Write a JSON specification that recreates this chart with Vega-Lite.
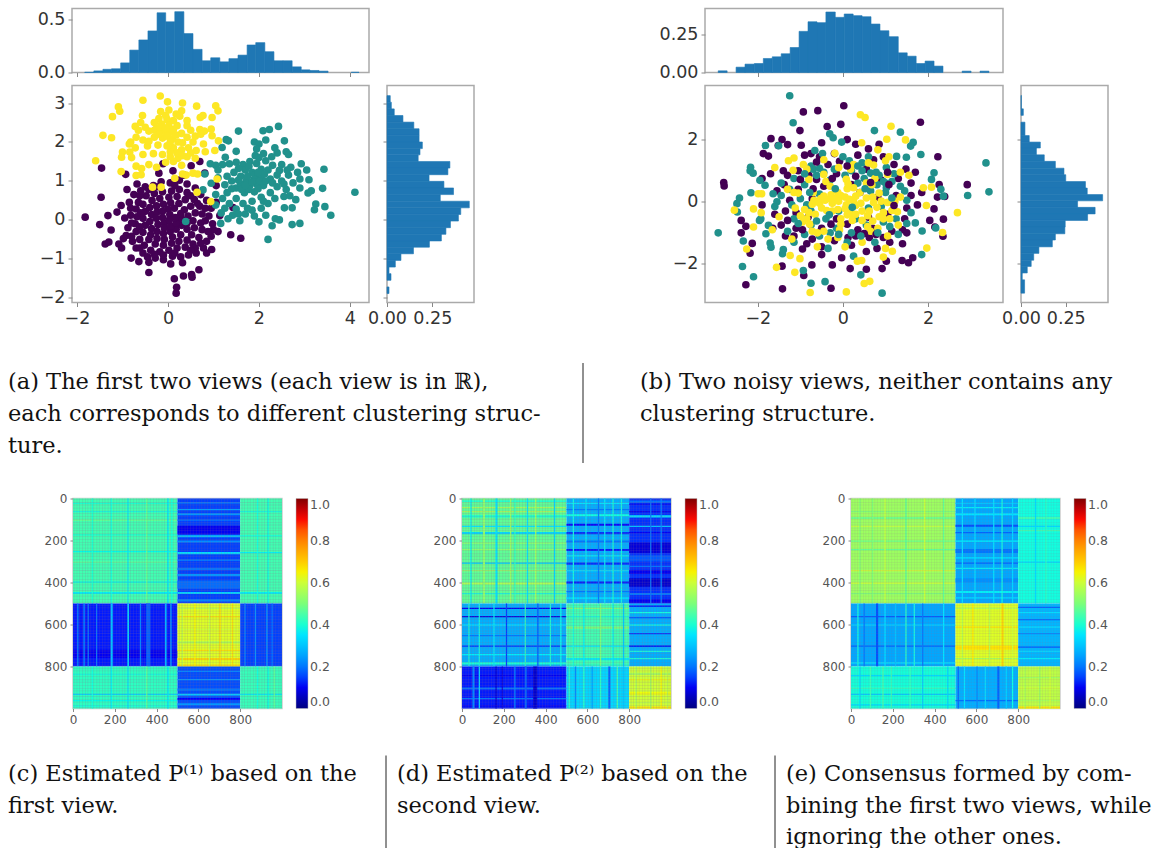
{"$schema":"https://vega.github.io/schema/vega-lite/v6.json","padding":{"left":8,"top":2.5,"right":0,"bottom":0},"background":"white","spacing":0,
"config":{"view":{"stroke":null},"axis":{"grid":false,"domain":false,"tickColor":"#888888","tickSize":4,"labelFont":"DejaVu Sans","labelFontSize":17.5,"labelColor":"#333333","labelOverlap":false,"labelFlush":false,"labelBound":false,"labelPadding":3},"legend":{"gradientLength":210,"gradientThickness":12,"labelFont":"DejaVu Sans","labelFontSize":12.5,"labelColor":"#555555","offset":14,"labelOffset":11,"gradientStrokeColor":"#bbbbbb","gradientStrokeWidth":0.5}},
"datasets":{
"grain":[{"a":3,"b":7},{"a":17,"b":21},{"a":29,"b":33},{"a":44,"b":48},{"a":58,"b":62},{"a":69,"b":73},{"a":83,"b":87},{"a":97,"b":101},{"a":112,"b":116},{"a":124,"b":128},{"a":139,"b":143},{"a":151,"b":155},{"a":166,"b":170},{"a":178,"b":182},{"a":193,"b":197},{"a":207,"b":211},{"a":219,"b":223},{"a":234,"b":238},{"a":246,"b":250},{"a":261,"b":265},{"a":273,"b":277},{"a":288,"b":292},{"a":302,"b":306},{"a":314,"b":318},{"a":329,"b":333},{"a":341,"b":345},{"a":356,"b":360},{"a":368,"b":372},{"a":383,"b":387},{"a":397,"b":401},{"a":409,"b":413},{"a":424,"b":428},{"a":436,"b":440},{"a":451,"b":455},{"a":463,"b":467},{"a":478,"b":482},{"a":492,"b":496},{"a":507,"b":511},{"a":519,"b":523},{"a":534,"b":538},{"a":546,"b":550},{"a":561,"b":565},{"a":573,"b":577},{"a":588,"b":592},{"a":602,"b":606},{"a":614,"b":618},{"a":629,"b":633},{"a":641,"b":645},{"a":656,"b":660},{"a":668,"b":672},{"a":683,"b":687},{"a":697,"b":701},{"a":709,"b":713},{"a":724,"b":728},{"a":736,"b":740},{"a":751,"b":755},{"a":763,"b":767},{"a":778,"b":782},{"a":792,"b":796},{"a":807,"b":811},{"a":819,"b":823},{"a":834,"b":838},{"a":846,"b":850},{"a":861,"b":865},{"a":873,"b":877},{"a":888,"b":892},{"a":902,"b":906},{"a":914,"b":918},{"a":929,"b":933},{"a":941,"b":945},{"a":956,"b":960},{"a":968,"b":972},{"a":983,"b":987},{"a":994,"b":998}],
"topA":[{"a":-1.83,"b":-1.63,"v":0.003},{"a":-1.63,"b":-1.43,"v":0.015},{"a":-1.43,"b":-1.24,"v":0.03},{"a":-1.24,"b":-1.04,"v":0.035},{"a":-1.04,"b":-0.84,"v":0.09},{"a":-0.84,"b":-0.64,"v":0.21},{"a":-0.64,"b":-0.44,"v":0.305},{"a":-0.44,"b":-0.24,"v":0.39},{"a":-0.24,"b":-0.05,"v":0.56},{"a":-0.05,"b":0.15,"v":0.475},{"a":0.15,"b":0.35,"v":0.57},{"a":0.35,"b":0.55,"v":0.365},{"a":0.55,"b":0.75,"v":0.217},{"a":0.75,"b":0.94,"v":0.11},{"a":0.94,"b":1.14,"v":0.138},{"a":1.14,"b":1.34,"v":0.1},{"a":1.34,"b":1.54,"v":0.13},{"a":1.54,"b":1.74,"v":0.163},{"a":1.74,"b":1.93,"v":0.258},{"a":1.93,"b":2.13,"v":0.28},{"a":2.13,"b":2.33,"v":0.195},{"a":2.33,"b":2.53,"v":0.11},{"a":2.53,"b":2.73,"v":0.11},{"a":2.73,"b":2.93,"v":0.053},{"a":2.93,"b":3.12,"v":0.025},{"a":3.12,"b":3.32,"v":0.019},{"a":3.32,"b":3.52,"v":0.013},{"a":4.03,"b":4.2,"v":0.003}],
"sideA":[{"a":3.19,"b":3.02,"v":0.018},{"a":3.02,"b":2.85,"v":0.024},{"a":2.85,"b":2.68,"v":0.04},{"a":2.68,"b":2.51,"v":0.088},{"a":2.51,"b":2.34,"v":0.148},{"a":2.34,"b":2.17,"v":0.177},{"a":2.17,"b":2.0,"v":0.177},{"a":2.0,"b":1.83,"v":0.195},{"a":1.83,"b":1.67,"v":0.182},{"a":1.67,"b":1.5,"v":0.172},{"a":1.5,"b":1.33,"v":0.347},{"a":1.33,"b":1.16,"v":0.336},{"a":1.16,"b":0.99,"v":0.232},{"a":0.99,"b":0.82,"v":0.314},{"a":0.82,"b":0.65,"v":0.367},{"a":0.65,"b":0.48,"v":0.294},{"a":0.48,"b":0.31,"v":0.454},{"a":0.31,"b":0.14,"v":0.407},{"a":0.14,"b":-0.03,"v":0.394},{"a":-0.03,"b":-0.2,"v":0.35},{"a":-0.2,"b":-0.37,"v":0.325},{"a":-0.37,"b":-0.54,"v":0.3},{"a":-0.54,"b":-0.7,"v":0.234},{"a":-0.7,"b":-0.87,"v":0.146},{"a":-0.87,"b":-1.04,"v":0.077},{"a":-1.04,"b":-1.21,"v":0.046},{"a":-1.21,"b":-1.38,"v":0.011},{"a":-1.38,"b":-1.55,"v":0.022},{"a":-1.72,"b":-1.89,"v":0.011}],
"topB":[{"a":-2.93,"b":-2.72,"v":0.011},{"a":-2.51,"b":-2.3,"v":0.035},{"a":-2.3,"b":-2.08,"v":0.055},{"a":-2.08,"b":-1.87,"v":0.059},{"a":-1.87,"b":-1.66,"v":0.092},{"a":-1.66,"b":-1.45,"v":0.103},{"a":-1.45,"b":-1.24,"v":0.123},{"a":-1.24,"b":-1.03,"v":0.164},{"a":-1.03,"b":-0.82,"v":0.27},{"a":-0.82,"b":-0.61,"v":0.333},{"a":-0.61,"b":-0.4,"v":0.327},{"a":-0.4,"b":-0.18,"v":0.397},{"a":-0.18,"b":0.03,"v":0.362},{"a":0.03,"b":0.24,"v":0.384},{"a":0.24,"b":0.45,"v":0.373},{"a":0.45,"b":0.66,"v":0.366},{"a":0.66,"b":0.87,"v":0.318},{"a":0.87,"b":1.08,"v":0.274},{"a":1.08,"b":1.3,"v":0.235},{"a":1.3,"b":1.51,"v":0.129},{"a":1.51,"b":1.72,"v":0.107},{"a":1.72,"b":1.93,"v":0.059},{"a":1.93,"b":2.14,"v":0.075},{"a":2.14,"b":2.35,"v":0.042},{"a":2.8,"b":3.01,"v":0.009},{"a":3.22,"b":3.43,"v":0.009}],
"sideB":[{"a":3.42,"b":2.99,"v":0.002},{"a":2.99,"b":2.78,"v":0.013},{"a":2.56,"b":2.13,"v":0.022},{"a":2.13,"b":1.92,"v":0.046},{"a":1.92,"b":1.73,"v":0.108},{"a":1.73,"b":1.51,"v":0.086},{"a":1.51,"b":1.3,"v":0.13},{"a":1.3,"b":1.08,"v":0.192},{"a":1.08,"b":0.87,"v":0.24},{"a":0.87,"b":0.65,"v":0.25},{"a":0.65,"b":0.44,"v":0.36},{"a":0.44,"b":0.23,"v":0.37},{"a":0.23,"b":0.03,"v":0.456},{"a":0.03,"b":-0.18,"v":0.316},{"a":-0.18,"b":-0.39,"v":0.414},{"a":-0.39,"b":-0.6,"v":0.372},{"a":-0.6,"b":-0.81,"v":0.247},{"a":-0.81,"b":-1.03,"v":0.245},{"a":-1.03,"b":-1.23,"v":0.192},{"a":-1.23,"b":-1.45,"v":0.175},{"a":-1.45,"b":-1.66,"v":0.1},{"a":-1.66,"b":-1.88,"v":0.071},{"a":-1.88,"b":-2.08,"v":0.057},{"a":-2.08,"b":-2.29,"v":0.035},{"a":-2.29,"b":-2.51,"v":0.007},{"a":-2.51,"b":-2.94,"v":0.02}],
"scA":[
{"x":-1.82,"y":0.07,"c":0},{"x":-1.46,"y":1.33,"c":0},{"x":-1.47,"y":0.58,"c":0},{"x":-1.5,"y":-0.12,"c":0},{"x":-1.32,"y":0.11,"c":0},{"x":-1.25,"y":-0.26,"c":0},{"x":-1.38,"y":-0.62,"c":0},{"x":-1.3,"y":-0.57,"c":0},{"x":-1.12,"y":0.2,"c":0},{"x":-1.03,"y":0.37,"c":0},{"x":-1.08,"y":-0.62,"c":0},{"x":-1.02,"y":-0.72,"c":0},{"x":-0.93,"y":1.17,"c":0},{"x":-0.9,"y":0.78,"c":0},{"x":-0.81,"y":-0.98,"c":0},{"x":-0.64,"y":-1.07,"c":0},{"x":-0.42,"y":-1.09,"c":0},{"x":-0.42,"y":-1.35,"c":0},{"x":0.06,"y":-1.13,"c":0},{"x":0.14,"y":-1.51,"c":0},{"x":0.19,"y":-1.73,"c":0},{"x":0.18,"y":-1.88,"c":0},{"x":0.34,"y":-1.44,"c":0},{"x":0.52,"y":-1.4,"c":0},{"x":0.53,"y":-1.47,"c":0},{"x":0.68,"y":-1.28,"c":0},{"x":0.32,"y":-1.1,"c":0},{"x":0.96,"y":-0.76,"c":0},{"x":1.38,"y":-0.38,"c":0},{"x":1.6,"y":-0.47,"c":0},{"x":1.14,"y":0.11,"c":0},{"x":0.7,"y":1.5,"c":0},{"x":-0.11,"y":1.44,"c":0},{"x":0.51,"y":1.39,"c":0},{"x":0.81,"y":1.2,"c":0},{"x":0.11,"y":1.26,"c":0},{"x":1.06,"y":0.88,"c":0},{"x":1.06,"y":0.45,"c":0},{"x":1.43,"y":0.32,"c":0},
{"x":-0.85,"y":0.45,"c":0},{"x":-0.82,"y":0.12,"c":0},{"x":-0.88,"y":-0.2,"c":0},{"x":-0.92,"y":-0.4,"c":0},{"x":-0.78,"y":-0.55,"c":0},{"x":-0.7,"y":-0.72,"c":0},{"x":-0.55,"y":-0.85,"c":0},{"x":-0.45,"y":-0.95,"c":0},{"x":-0.28,"y":-0.98,"c":0},{"x":-0.1,"y":-1.02,"c":0},{"x":0.1,"y":-0.93,"c":0},{"x":0.28,"y":-0.95,"c":0},{"x":0.45,"y":-0.9,"c":0},{"x":0.62,"y":-0.85,"c":0},{"x":0.78,"y":-0.72,"c":0},{"x":0.85,"y":-0.55,"c":0},{"x":0.95,"y":-0.42,"c":0},{"x":1.1,"y":-0.3,"c":0},{"x":0.98,"y":-0.1,"c":0},{"x":0.9,"y":0.1,"c":0},{"x":0.95,"y":0.3,"c":0},{"x":0.85,"y":0.5,"c":0},{"x":0.72,"y":0.65,"c":0},{"x":0.6,"y":0.82,"c":0},{"x":0.42,"y":0.92,"c":0},{"x":0.25,"y":1.02,"c":0},{"x":0.05,"y":0.95,"c":0},{"x":-0.15,"y":0.98,"c":0},{"x":-0.32,"y":0.88,"c":0},{"x":-0.5,"y":0.85,"c":0},{"x":-0.68,"y":0.92,"c":0},{"x":-0.75,"y":0.65,"c":0},{"x":-0.65,"y":0.45,"c":0},{"x":-0.7,"y":0.28,"c":0},{"x":-0.68,"y":0.08,"c":0},{"x":-0.72,"y":-0.1,"c":0},{"x":-0.7,"y":-0.3,"c":0},{"x":-0.62,"y":-0.5,"c":0},{"x":-0.52,"y":-0.65,"c":0},{"x":-0.38,"y":-0.78,"c":0},{"x":-0.18,"y":-0.82,"c":0},{"x":0.02,"y":-0.78,"c":0},{"x":0.2,"y":-0.72,"c":0},{"x":0.38,"y":-0.7,"c":0},{"x":0.55,"y":-0.62,"c":0},{"x":0.68,"y":-0.45,"c":0},{"x":0.75,"y":-0.25,"c":0},{"x":0.72,"y":-0.08,"c":0},{"x":0.75,"y":0.15,"c":0},{"x":0.7,"y":0.35,"c":0},{"x":0.58,"y":0.52,"c":0},{"x":0.42,"y":0.7,"c":0},{"x":0.25,"y":0.78,"c":0},{"x":0.08,"y":0.74,"c":0},{"x":-0.12,"y":0.72,"c":0},{"x":-0.3,"y":0.68,"c":0},{"x":-0.48,"y":0.62,"c":0},
{"x":-0.55,"y":0.4,"c":0},{"x":-0.5,"y":0.22,"c":0},{"x":-0.55,"y":0.04,"c":0},{"x":-0.5,"y":-0.14,"c":0},{"x":-0.55,"y":-0.32,"c":0},{"x":-0.42,"y":-0.5,"c":0},{"x":-0.28,"y":-0.62,"c":0},{"x":-0.1,"y":-0.65,"c":0},{"x":0.08,"y":-0.6,"c":0},{"x":0.24,"y":-0.55,"c":0},{"x":0.42,"y":-0.52,"c":0},{"x":0.52,"y":-0.38,"c":0},{"x":0.58,"y":-0.2,"c":0},{"x":0.55,"y":-0.02,"c":0},{"x":0.6,"y":0.18,"c":0},{"x":0.5,"y":0.35,"c":0},{"x":0.38,"y":0.52,"c":0},{"x":0.2,"y":0.6,"c":0},{"x":0.02,"y":0.58,"c":0},{"x":-0.18,"y":0.55,"c":0},{"x":-0.35,"y":0.5,"c":0},{"x":-0.4,"y":0.32,"c":0},{"x":-0.36,"y":0.14,"c":0},{"x":-0.4,"y":-0.04,"c":0},{"x":-0.36,"y":-0.22,"c":0},{"x":-0.38,"y":-0.38,"c":0},{"x":-0.24,"y":-0.48,"c":0},{"x":-0.08,"y":-0.5,"c":0},{"x":0.1,"y":-0.44,"c":0},{"x":0.28,"y":-0.38,"c":0},{"x":0.42,"y":-0.24,"c":0},{"x":0.42,"y":-0.08,"c":0},{"x":0.44,"y":0.1,"c":0},{"x":0.36,"y":0.26,"c":0},{"x":0.24,"y":0.42,"c":0},{"x":0.06,"y":0.44,"c":0},{"x":-0.1,"y":0.4,"c":0},{"x":-0.25,"y":0.36,"c":0},{"x":-0.24,"y":0.2,"c":0},{"x":-0.26,"y":0.04,"c":0},{"x":-0.22,"y":-0.12,"c":0},{"x":-0.24,"y":-0.3,"c":0},{"x":-0.1,"y":-0.35,"c":0},{"x":0.05,"y":-0.3,"c":0},{"x":0.18,"y":-0.24,"c":0},{"x":0.3,"y":-0.14,"c":0},{"x":0.3,"y":0.02,"c":0},{"x":0.28,"y":0.16,"c":0},{"x":0.14,"y":0.3,"c":0},{"x":0,"y":0.28,"c":0},{"x":-0.12,"y":0.22,"c":0},{"x":-0.12,"y":0.06,"c":0},{"x":-0.08,"y":-0.08,"c":0},{"x":-0.08,"y":-0.2,"c":0},{"x":0.06,"y":-0.16,"c":0},{"x":0.18,"y":-0.08,"c":0},{"x":0.16,"y":0.06,"c":0},{"x":0.04,"y":0.14,"c":0},{"x":0.03,"y":0,"c":0},{"x":0.6,"y":-0.72,"c":0},{"x":0.85,"y":-0.85,"c":0},{"x":1,"y":-0.25,"c":0},{"x":-0.95,"y":0.05,"c":0},{"x":-0.98,"y":-0.48,"c":0},{"x":-0.62,"y":0.62,"c":0},{"x":-0.2,"y":1.2,"c":0},{"x":0.35,"y":1.15,"c":0},{"x":-0.82,"y":0.3,"c":0},{"x":-0.6,"y":0.75,"c":0},{"x":-0.42,"y":0.78,"c":0},{"x":-0.22,"y":0.85,"c":0},{"x":0.15,"y":0.88,"c":0},{"x":0.5,"y":0.62,"c":0},{"x":0.65,"y":0.42,"c":0},{"x":0.82,"y":0.3,"c":0},{"x":0.82,"y":-0.02,"c":0},{"x":0.88,"y":-0.3,"c":0},{"x":0.72,"y":-0.6,"c":0},{"x":0.5,"y":-0.78,"c":0},{"x":0.15,"y":-0.85,"c":0},{"x":-0.1,"y":-0.9,"c":0},{"x":-0.3,"y":-0.88,"c":0},{"x":-0.62,"y":-0.72,"c":0},{"x":-0.8,"y":-0.42,"c":0},{"x":-0.8,"y":-0.08,"c":0},{"x":-0.6,"y":0.18,"c":0},{"x":-0.62,"y":-0.18,"c":0},
{"x":4.11,"y":0.71,"c":1},{"x":3.58,"y":0.12,"c":1},{"x":3.45,"y":0.34,"c":1},{"x":3.25,"y":0.41,"c":1},{"x":3.22,"y":0.26,"c":1},{"x":3.4,"y":0.81,"c":1},{"x":3.43,"y":1.3,"c":1},{"x":2.93,"y":1.44,"c":1},{"x":3.05,"y":1.28,"c":1},{"x":3.1,"y":1.03,"c":1},{"x":3.15,"y":0.75,"c":1},{"x":3.08,"y":0.69,"c":1},{"x":2.9,"y":-0.09,"c":1},{"x":2.73,"y":-0.12,"c":1},{"x":2.2,"y":-0.5,"c":1},{"x":0.39,"y":-0.04,"c":1},{"x":2.43,"y":2.4,"c":1},{"x":2.23,"y":2.32,"c":1},{"x":2.09,"y":2.29,"c":1},{"x":1.55,"y":2.28,"c":1},{"x":2.56,"y":2.03,"c":1},{"x":1.28,"y":2.06,"c":1},{"x":1.33,"y":2.03,"c":1},{"x":1.19,"y":1.86,"c":1},{"x":1.5,"y":1.76,"c":1},{"x":1.26,"y":1.61,"c":1},{"x":0.81,"y":1.18,"c":1},{"x":0.93,"y":1.44,"c":1},{"x":0.77,"y":0.77,"c":1},{"x":0.95,"y":0.94,"c":1},{"x":1.17,"y":0.18,"c":1},{"x":1.16,"y":-0.09,"c":1},{"x":1.32,"y":0.03,"c":1},{"x":1.58,"y":-0.02,"c":1},{"x":2.29,"y":-0.15,"c":1},{"x":2.36,"y":0.03,"c":1},{"x":2.45,"y":0,"c":1},{"x":2.56,"y":0.31,"c":1},{"x":2.73,"y":0.31,"c":1},{"x":2.81,"y":0.52,"c":1},
{"x":1.9,"y":2.0,"c":1},{"x":2.0,"y":1.95,"c":1},{"x":2.15,"y":2.05,"c":1},{"x":1.95,"y":1.82,"c":1},{"x":2.1,"y":1.7,"c":1},{"x":2.4,"y":1.72,"c":1},{"x":2.6,"y":1.75,"c":1},{"x":2.65,"y":1.68,"c":1},{"x":2.35,"y":1.85,"c":1},{"x":1.05,"y":1.4,"c":1},{"x":1.2,"y":1.42,"c":1},{"x":1.35,"y":1.44,"c":1},{"x":1.5,"y":1.48,"c":1},{"x":1.65,"y":1.42,"c":1},{"x":1.8,"y":1.5,"c":1},{"x":1.95,"y":1.45,"c":1},{"x":2.15,"y":1.52,"c":1},{"x":2.3,"y":1.4,"c":1},{"x":2.5,"y":1.42,"c":1},{"x":2.7,"y":1.35,"c":1},{"x":2.85,"y":1.22,"c":1},{"x":2.65,"y":1.15,"c":1},{"x":2.9,"y":1.05,"c":1},{"x":2.75,"y":0.95,"c":1},{"x":2.9,"y":0.82,"c":1},{"x":2.6,"y":0.78,"c":1},{"x":2.55,"y":0.6,"c":1},{"x":2.35,"y":0.55,"c":1},{"x":2.2,"y":0.42,"c":1},{"x":2.05,"y":0.3,"c":1},{"x":1.85,"y":0.25,"c":1},{"x":1.7,"y":0.15,"c":1},{"x":1.9,"y":0.1,"c":1},{"x":1.5,"y":0.28,"c":1},{"x":1.35,"y":0.42,"c":1},{"x":1.2,"y":0.55,"c":1},{"x":1.05,"y":0.65,"c":1},{"x":1.3,"y":0.7,"c":1},{"x":1.5,"y":0.55,"c":1},{"x":1.65,"y":0.42,"c":1},{"x":1.85,"y":0.48,"c":1},{"x":2.05,"y":0.58,"c":1},{"x":2.25,"y":0.7,"c":1},{"x":2.4,"y":0.85,"c":1},{"x":2.5,"y":1.0,"c":1},{"x":2.4,"y":1.15,"c":1},{"x":2.45,"y":1.27,"c":1},{"x":2.2,"y":1.28,"c":1},{"x":2.25,"y":1.05,"c":1},{"x":2.1,"y":0.88,"c":1},{"x":1.9,"y":0.72,"c":1},{"x":1.68,"y":0.7,"c":1},{"x":1.5,"y":0.82,"c":1},{"x":1.25,"y":0.9,"c":1},{"x":1.1,"y":1.08,"c":1},{"x":1.3,"y":1.12,"c":1},{"x":1.45,"y":1.22,"c":1},{"x":1.6,"y":1.12,"c":1},{"x":1.7,"y":1.28,"c":1},{"x":1.85,"y":1.22,"c":1},{"x":2.05,"y":1.3,"c":1},{"x":2.05,"y":1.1,"c":1},{"x":1.9,"y":1.05,"c":1},{"x":1.72,"y":1.0,"c":1},{"x":1.6,"y":0.92,"c":1},{"x":1.8,"y":0.88,"c":1},{"x":1.95,"y":0.92,"c":1},{"x":1.85,"y":0.98,"c":1},{"x":2.02,"y":1.0,"c":1},{"x":1.75,"y":1.12,"c":1},{"x":1.92,"y":1.15,"c":1},{"x":2.12,"y":1.18,"c":1},{"x":1.78,"y":0.78,"c":1},{"x":1.55,"y":1.02,"c":1},{"x":1.4,"y":1.0,"c":1},{"x":1.05,"y":0.38,"c":1},{"x":1.42,"y":0.12,"c":1},{"x":2.0,"y":-0.05,"c":1},{"x":2.15,"y":0.12,"c":1},{"x":1.62,"y":0.78,"c":1},{"x":1.7,"y":0.88,"c":1},{"x":1.98,"y":0.8,"c":1},{"x":2.15,"y":1.0,"c":1},{"x":1.98,"y":1.22,"c":1},{"x":1.78,"y":1.38,"c":1},{"x":1.55,"y":1.32,"c":1},{"x":1.4,"y":0.8,"c":1},{"x":2.3,"y":0.95,"c":1},{"x":2.55,"y":0.92,"c":1},{"x":2.68,"y":0.62,"c":1},{"x":2.1,"y":0.48,"c":1},{"x":1.75,"y":0.3,"c":1},{"x":1.55,"y":0.15,"c":1},{"x":1.25,"y":0.3,"c":1},{"x":1.92,"y":1.65,"c":1},{"x":2.28,"y":1.62,"c":1},{"x":2.0,"y":1.6,"c":1},{"x":1.1,"y":1.28,"c":1},{"x":2.62,"y":1.28,"c":1},
{"x":-0.17,"y":3.18,"c":2},{"x":-0.55,"y":3.07,"c":2},{"x":-0.01,"y":3.03,"c":2},{"x":0.32,"y":3.0,"c":2},{"x":1.05,"y":2.93,"c":2},{"x":1.1,"y":2.8,"c":2},{"x":0.63,"y":2.92,"c":2},{"x":-1.09,"y":2.9,"c":2},{"x":-1.06,"y":2.79,"c":2},{"x":-1.22,"y":2.65,"c":2},{"x":-0.56,"y":2.68,"c":2},{"x":-1.43,"y":2.17,"c":2},{"x":-1.24,"y":2.11,"c":2},{"x":-1.59,"y":1.52,"c":2},{"x":-1.03,"y":1.24,"c":2},{"x":-1,"y":1.74,"c":2},{"x":-1.02,"y":1.61,"c":2},{"x":-0.84,"y":1.74,"c":2},{"x":-0.7,"y":1.14,"c":2},{"x":-0.59,"y":1.16,"c":2},{"x":-0.34,"y":0.84,"c":2},{"x":-0.15,"y":0.84,"c":2},{"x":0.15,"y":1.07,"c":2},{"x":0.64,"y":0.71,"c":2},{"x":0.94,"y":0.47,"c":2},{"x":1.08,"y":1.05,"c":2},{"x":0.97,"y":2.63,"c":2},{"x":0.95,"y":2.33,"c":2},{"x":0.97,"y":2.16,"c":2},{"x":1.11,"y":2.03,"c":2},{"x":1.03,"y":1.78,"c":2},{"x":0.71,"y":2.63,"c":2},{"x":0.77,"y":2.68,"c":2},
{"x":-0.16,"y":2.78,"c":2},{"x":0.02,"y":2.82,"c":2},{"x":0.18,"y":2.72,"c":2},{"x":0.3,"y":2.8,"c":2},{"x":0.26,"y":2.66,"c":2},{"x":-0.2,"y":2.6,"c":2},{"x":-0.02,"y":2.58,"c":2},{"x":0.12,"y":2.55,"c":2},{"x":-0.3,"y":2.5,"c":2},{"x":-0.14,"y":2.46,"c":2},{"x":0.02,"y":2.42,"c":2},{"x":0.2,"y":2.42,"c":2},{"x":0.42,"y":2.42,"c":2},{"x":0.5,"y":2.3,"c":2},{"x":0.7,"y":2.32,"c":2},{"x":0.8,"y":2.28,"c":2},{"x":-0.72,"y":2.4,"c":2},{"x":-0.65,"y":2.3,"c":2},{"x":-0.5,"y":2.38,"c":2},{"x":-0.42,"y":2.28,"c":2},{"x":-0.25,"y":2.35,"c":2},{"x":-0.1,"y":2.28,"c":2},{"x":0.05,"y":2.25,"c":2},{"x":0.3,"y":2.22,"c":2},{"x":0.42,"y":2.12,"c":2},{"x":0.6,"y":2.15,"c":2},{"x":0.72,"y":2.2,"c":2},{"x":-0.7,"y":2.12,"c":2},{"x":-0.82,"y":2.0,"c":2},{"x":-0.55,"y":2.05,"c":2},{"x":-0.3,"y":2.12,"c":2},{"x":-0.12,"y":2.1,"c":2},{"x":0.1,"y":2.08,"c":2},{"x":0.22,"y":2.0,"c":2},{"x":0.55,"y":2.0,"c":2},{"x":0.78,"y":1.95,"c":2},{"x":-0.72,"y":1.85,"c":2},{"x":-0.45,"y":1.9,"c":2},{"x":-0.22,"y":1.92,"c":2},{"x":-0.02,"y":1.9,"c":2},{"x":0.12,"y":1.85,"c":2},{"x":0.3,"y":1.8,"c":2},{"x":0.45,"y":1.85,"c":2},{"x":0.62,"y":1.78,"c":2},{"x":0.82,"y":1.75,"c":2},{"x":-0.55,"y":1.68,"c":2},{"x":-0.32,"y":1.7,"c":2},{"x":-0.12,"y":1.68,"c":2},{"x":0.05,"y":1.62,"c":2},{"x":0.22,"y":1.58,"c":2},{"x":0.42,"y":1.62,"c":2},{"x":0.6,"y":1.58,"c":2},{"x":-0.7,"y":1.38,"c":2},{"x":-0.58,"y":1.32,"c":2},{"x":-0.42,"y":1.42,"c":2},{"x":-0.25,"y":1.35,"c":2},{"x":-0.05,"y":1.48,"c":2},{"x":0.3,"y":1.4,"c":2},{"x":0.32,"y":1.18,"c":2},{"x":0.4,"y":1.15,"c":2},{"x":0.55,"y":1.2,"c":2},{"x":0.65,"y":1.18,"c":2},{"x":-0.05,"y":2.68,"c":2},{"x":-0.3,"y":2.3,"c":2},{"x":-0.18,"y":2.38,"c":2},{"x":-0.05,"y":2.35,"c":2},{"x":0.12,"y":2.32,"c":2},{"x":-0.2,"y":2.2,"c":2},{"x":-0.02,"y":2.15,"c":2},{"x":0.18,"y":2.18,"c":2},{"x":-0.42,"y":2.02,"c":2},{"x":0.05,"y":2.0,"c":2},{"x":0.32,"y":1.98,"c":2},{"x":0.05,"y":1.75,"c":2},{"x":0.2,"y":1.72,"c":2},{"x":0.32,"y":1.65,"c":2},{"x":0.12,"y":1.5,"c":2},{"x":0.5,"y":1.72,"c":2},{"x":-0.6,"y":2.5,"c":2},{"x":-0.85,"y":1.95,"c":2},{"x":-0.8,"y":1.6,"c":2},{"x":0.42,"y":2.55,"c":2}],
"scB":[
{"x":-1.42,"y":-2.8,"c":0},{"x":-2.28,"y":-2.67,"c":0},{"x":-0.28,"y":-2.78,"c":0},{"x":-1.43,"y":-2.07,"c":0},{"x":-0.92,"y":-2.37,"c":0},{"x":-0.93,"y":2.89,"c":0},{"x":-0.59,"y":2.93,"c":0},{"x":0.02,"y":3.09,"c":0},{"x":-1.01,"y":2.29,"c":0},{"x":-0.37,"y":2.42,"c":0},{"x":-0.05,"y":2.49,"c":0},{"x":1.82,"y":2.56,"c":0},{"x":2.23,"y":1.45,"c":0},{"x":2.92,"y":0.55,"c":0},{"x":-2.8,"y":0.62,"c":0},{"x":-2.79,"y":0.51,"c":0},{"x":2.36,"y":-0.56,"c":0},{"x":2.35,"y":-1.11,"c":0},{"x":-2.39,"y":-0.6,"c":0},{"x":-2.39,"y":-1.0,"c":0},{"x":-2.28,"y":-0.79,"c":0},{"x":-2.13,"y":-1.34,"c":0},{"x":-2.18,"y":-1.65,"c":0},{"x":-1.69,"y":2.03,"c":0},{"x":-1.43,"y":2.0,"c":0},{"x":-1.3,"y":1.84,"c":0},{"x":-1.87,"y":1.55,"c":0},{"x":-1.75,"y":1.47,"c":0},{"x":-1.52,"y":1.81,"c":0},{"x":-0.98,"y":1.82,"c":0},{"x":1.54,"y":-1.96,"c":0},{"x":1.39,"y":-1.89,"c":0},{"x":1.64,"y":-1.8,"c":0},{"x":0.92,"y":-2.15,"c":0},{"x":0.55,"y":-2.17,"c":0},{"x":0.17,"y":-2.15,"c":0},{"x":-0.03,"y":-1.8,"c":0},{"x":-0.25,"y":-2.03,"c":0},{"x":-0.73,"y":-2.03,"c":0},{"x":1.02,"y":-1.91,"c":0},{"x":2.16,"y":-0.81,"c":0},{"x":2.04,"y":-0.6,"c":0},{"x":2.14,"y":-0.23,"c":0},{"x":2.39,"y":0.17,"c":0},{"x":2.26,"y":0.55,"c":0},{"x":2.22,"y":0.15,"c":0},
{"x":-1.9,"y":0.75,"c":0},{"x":-1.7,"y":0.9,"c":0},{"x":-1.4,"y":1.0,"c":0},{"x":-1.3,"y":0.85,"c":0},{"x":-0.9,"y":1.5,"c":0},{"x":-0.75,"y":1.55,"c":0},{"x":-0.5,"y":1.9,"c":0},{"x":-0.2,"y":1.55,"c":0},{"x":0.1,"y":2.0,"c":0},{"x":0.3,"y":1.85,"c":0},{"x":0.6,"y":1.7,"c":0},{"x":0.85,"y":1.85,"c":0},{"x":1.2,"y":1.2,"c":0},{"x":1.7,"y":0.95,"c":0},{"x":1.6,"y":0.6,"c":0},{"x":1.85,"y":0.3,"c":0},{"x":1.5,"y":-0.2,"c":0},{"x":1.75,"y":-0.1,"c":0},{"x":1.4,"y":-0.9,"c":0},{"x":1.5,"y":-1.0,"c":0},{"x":1.1,"y":-1.3,"c":0},{"x":1.4,"y":-1.35,"c":0},{"x":0.8,"y":-1.5,"c":0},{"x":0.55,"y":-1.6,"c":0},{"x":0.2,"y":-1.4,"c":0},{"x":0.3,"y":-1.1,"c":0},{"x":-0.2,"y":-1.25,"c":0},{"x":-0.5,"y":-1.45,"c":0},{"x":-0.95,"y":-1.52,"c":0},{"x":-0.72,"y":-1.2,"c":0},{"x":-1.1,"y":-0.85,"c":0},{"x":-1.45,"y":-0.75,"c":0},{"x":-1.6,"y":-0.4,"c":0},{"x":-1.35,"y":-0.3,"c":0},{"x":-1.25,"y":0.05,"c":0},{"x":-1.05,"y":0.4,"c":0},{"x":-0.8,"y":0.85,"c":0},{"x":-0.45,"y":0.5,"c":0},{"x":-0.15,"y":0.9,"c":0},{"x":0.2,"y":0.55,"c":0},{"x":0.55,"y":1.05,"c":0},{"x":0.9,"y":0.7,"c":0},{"x":1.25,"y":0.2,"c":0},{"x":1.05,"y":-0.4,"c":0},{"x":0.7,"y":-0.85,"c":0},{"x":0.1,"y":-0.72,"c":0},{"x":-0.5,"y":-0.85,"c":0},{"x":-0.82,"y":-0.5,"c":0},{"x":-0.72,"y":0.1,"c":0},{"x":0.35,"y":-0.9,"c":0},{"x":0.62,"y":-1.15,"c":0},{"x":-0.35,"y":1.2,"c":0},{"x":0.95,"y":1.45,"c":0},{"x":1.3,"y":0.75,"c":0},{"x":1.15,"y":-0.95,"c":0},{"x":-1.15,"y":-1.1,"c":0},{"x":-0.5,"y":-1.7,"c":0},{"x":-1.55,"y":0.35,"c":0},{"x":-1.9,"y":-0.1,"c":0},{"x":-1.65,"y":-0.85,"c":0},{"x":-0.62,"y":0.72,"c":0},{"x":0.4,"y":0.3,"c":0},{"x":0.82,"y":0.15,"c":0},{"x":-0.15,"y":-0.55,"c":0},{"x":0.6,"y":-0.5,"c":0},{"x":-1.05,"y":1.0,"c":0},{"x":-0.55,"y":1.45,"c":0},{"x":-0.08,"y":1.3,"c":0},{"x":0.35,"y":1.5,"c":0},{"x":0.72,"y":1.35,"c":0},{"x":1.48,"y":1.05,"c":0},{"x":1.6,"y":0.2,"c":0},{"x":1.45,"y":-0.55,"c":0},{"x":0.95,"y":-1.15,"c":0},{"x":0.12,"y":-1.15,"c":0},{"x":-0.85,"y":-1.35,"c":0},{"x":-1.35,"y":-1.1,"c":0},{"x":-1.1,"y":-0.35,"c":0},{"x":-1.38,"y":0.55,"c":0},
{"x":-1.25,"y":3.41,"c":1},{"x":-1.17,"y":2.54,"c":1},{"x":0.74,"y":2.29,"c":1},{"x":1.35,"y":2.24,"c":1},{"x":3.36,"y":1.25,"c":1},{"x":3.43,"y":0.32,"c":1},{"x":2.93,"y":0.2,"c":1},{"x":-2.93,"y":-1,"c":1},{"x":-2.43,"y":0.12,"c":1},{"x":-2.49,"y":-0.06,"c":1},{"x":-2.48,"y":-0.33,"c":1},{"x":-2.16,"y":0.29,"c":1},{"x":-2.17,"y":1.11,"c":1},{"x":-2.18,"y":1.0,"c":1},{"x":-2.11,"y":0.92,"c":1},{"x":-2.34,"y":-1.26,"c":1},{"x":-2.36,"y":-2.08,"c":1},{"x":-2.1,"y":-2.41,"c":1},{"x":-1.71,"y":-1.33,"c":1},{"x":-1.69,"y":-1.46,"c":1},{"x":-1.4,"y":-1.54,"c":1},{"x":-1.42,"y":-1.67,"c":1},{"x":-0.93,"y":-2.21,"c":1},{"x":-0.75,"y":-2.62,"c":1},{"x":-0.42,"y":-2.57,"c":1},{"x":0.42,"y":-2.35,"c":1},{"x":0.92,"y":-2.94,"c":1},{"x":1.85,"y":-1.7,"c":1},{"x":1.86,"y":-0.94,"c":1},{"x":2.18,"y":-0.84,"c":1},{"x":1.7,"y":-0.68,"c":1},{"x":1.83,"y":1.52,"c":1},{"x":1.65,"y":1.91,"c":1},{"x":1.59,"y":1.79,"c":1},{"x":1.49,"y":1.43,"c":1},{"x":1.26,"y":1.46,"c":1},{"x":2.14,"y":0.93,"c":1},{"x":2.08,"y":0.72,"c":1},{"x":2.3,"y":0.4,"c":1},{"x":2.36,"y":0.18,"c":1},{"x":-1.82,"y":1.81,"c":1},{"x":-1.51,"y":1.8,"c":1},{"x":-0.31,"y":2.19,"c":1},{"x":-0.23,"y":2.06,"c":1},{"x":-0.03,"y":1.92,"c":1},{"x":-0.66,"y":1.65,"c":1},{"x":-1.95,"y":0.69,"c":1},{"x":-1.83,"y":0.53,"c":1},{"x":-1.64,"y":0.26,"c":1},{"x":-1.96,"y":-0.6,"c":1},{"x":-1.93,"y":-0.55,"c":1},{"x":-1.81,"y":-1.03,"c":1},{"x":-1.75,"y":-0.76,"c":1},
{"x":-0.75,"y":1.15,"c":1},{"x":-0.7,"y":1.05,"c":1},{"x":-0.55,"y":1.08,"c":1},{"x":-0.2,"y":1.05,"c":1},{"x":0.15,"y":1.32,"c":1},{"x":0.45,"y":1.25,"c":1},{"x":0.65,"y":0.92,"c":1},{"x":0.85,"y":0.85,"c":1},{"x":1.0,"y":0.6,"c":1},{"x":1.02,"y":0.45,"c":1},{"x":1.15,"y":0.65,"c":1},{"x":1.45,"y":0.35,"c":1},{"x":1.5,"y":0.05,"c":1},{"x":1.6,"y":-0.35,"c":1},{"x":1.25,"y":-0.55,"c":1},{"x":0.95,"y":-0.65,"c":1},{"x":0.55,"y":-0.75,"c":1},{"x":0.2,"y":-1.0,"c":1},{"x":-0.15,"y":-0.85,"c":1},{"x":-0.3,"y":-1.0,"c":1},{"x":-0.55,"y":-1.1,"c":1},{"x":-0.9,"y":-1.05,"c":1},{"x":-1.15,"y":-0.55,"c":1},{"x":-1.2,"y":-0.1,"c":1},{"x":-1.55,"y":0.0,"c":1},{"x":-1.45,"y":0.2,"c":1},{"x":-1.0,"y":0.1,"c":1},{"x":-0.9,"y":0.55,"c":1},{"x":-0.55,"y":0.25,"c":1},{"x":-0.3,"y":0.7,"c":1},{"x":0.05,"y":0.85,"c":1},{"x":0.35,"y":0.6,"c":1},{"x":0.65,"y":0.35,"c":1},{"x":0.9,"y":-0.15,"c":1},{"x":0.6,"y":-0.2,"c":1},{"x":0.3,"y":-0.55,"c":1},{"x":-0.1,"y":-0.3,"c":1},{"x":-0.4,"y":-0.55,"c":1},{"x":-0.75,"y":-0.75,"c":1},{"x":-0.85,"y":-0.1,"c":1},{"x":1.2,"y":0.9,"c":1},{"x":1.02,"y":1.1,"c":1},{"x":0.2,"y":1.0,"c":1},{"x":0.8,"y":0.55,"c":1},{"x":0.25,"y":-1.75,"c":1},{"x":-0.35,"y":-1.5,"c":1},{"x":0.75,"y":-1.3,"c":1},{"x":-1.15,"y":-1.3,"c":1},{"x":0.45,"y":1.0,"c":1},{"x":-0.75,"y":-0.3,"c":1},{"x":1.35,"y":0.5,"c":1},{"x":1.0,"y":0.3,"c":1},{"x":1.3,"y":-1.05,"c":1},{"x":-1.45,"y":0.6,"c":1},{"x":-1.15,"y":0.75,"c":1},{"x":-0.62,"y":0.85,"c":1},{"x":-0.45,"y":0.95,"c":1},{"x":0.5,"y":0.75,"c":1},{"x":0.95,"y":0.65,"c":1},{"x":1.5,"y":-0.7,"c":1},{"x":0.0,"y":1.45,"c":1},{"x":-0.48,"y":1.55,"c":1},{"x":0.6,"y":1.45,"c":1},{"x":-1.25,"y":0.4,"c":1},{"x":-1.6,"y":-0.15,"c":1},{"x":-1.3,"y":-0.95,"c":1},{"x":0.1,"y":-1.3,"c":1},
{"x":-2.55,"y":-0.27,"c":2},{"x":-2.1,"y":-0.23,"c":2},{"x":-1.92,"y":-0.35,"c":2},{"x":-2.1,"y":-0.81,"c":2},{"x":-2.26,"y":-1.52,"c":2},{"x":-1.56,"y":-2.11,"c":2},{"x":-1.13,"y":-2.27,"c":2},{"x":-1.24,"y":-1.73,"c":2},{"x":-1.01,"y":-1.83,"c":2},{"x":-0.77,"y":-2.92,"c":2},{"x":0.08,"y":-2.9,"c":2},{"x":0.5,"y":-2.63,"c":2},{"x":0.63,"y":-2.56,"c":2},{"x":0.34,"y":-1.91,"c":2},{"x":0.44,"y":-1.89,"c":2},{"x":0.95,"y":-1.78,"c":2},{"x":1,"y":-1.5,"c":2},{"x":1.16,"y":-1.59,"c":2},{"x":1.97,"y":-1.49,"c":2},{"x":2.34,"y":-0.99,"c":2},{"x":2.69,"y":-0.35,"c":2},{"x":1.96,"y":-0.12,"c":2},{"x":2.08,"y":0.47,"c":2},{"x":1.89,"y":0.45,"c":2},{"x":0.41,"y":2.8,"c":2},{"x":0.52,"y":2.71,"c":2},{"x":1.13,"y":2.43,"c":2},{"x":1.47,"y":1.99,"c":2},{"x":1.03,"y":2.01,"c":2},{"x":0.44,"y":1.9,"c":2},{"x":0.82,"y":1.67,"c":2},{"x":-1.99,"y":0.26,"c":2},{"x":-1.91,"y":0.26,"c":2},{"x":-1.6,"y":1.1,"c":2},{"x":-1.66,"y":-0.9,"c":2},{"x":-1.28,"y":1.32,"c":2},{"x":-1.15,"y":1.41,"c":2},{"x":-1.17,"y":1.01,"c":2},{"x":-0.93,"y":1.2,"c":2},{"x":-0.19,"y":1.56,"c":2},{"x":-0.45,"y":1.35,"c":2},
{"x":-1.3,"y":0.4,"c":2},{"x":-1.15,"y":0.3,"c":2},{"x":-1.05,"y":0.28,"c":2},{"x":-1.12,"y":-0.2,"c":2},{"x":-1.0,"y":-0.45,"c":2},{"x":-0.95,"y":-0.65,"c":2},{"x":-0.85,"y":-0.55,"c":2},{"x":-0.8,"y":-0.35,"c":2},{"x":-0.72,"y":-0.08,"c":2},{"x":-0.68,"y":0.05,"c":2},{"x":-0.7,"y":0.3,"c":2},{"x":-0.55,"y":-0.05,"c":2},{"x":-0.52,"y":0.1,"c":2},{"x":-0.45,"y":0.18,"c":2},{"x":-0.42,"y":0.05,"c":2},{"x":-0.3,"y":0.1,"c":2},{"x":-0.28,"y":0.22,"c":2},{"x":-0.15,"y":0.12,"c":2},{"x":-0.12,"y":0.3,"c":2},{"x":-0.05,"y":0.2,"c":2},{"x":0.05,"y":0.15,"c":2},{"x":-0.38,"y":-0.28,"c":2},{"x":-0.25,"y":-0.3,"c":2},{"x":-0.12,"y":-0.25,"c":2},{"x":0.05,"y":-0.22,"c":2},{"x":0.12,"y":-0.3,"c":2},{"x":0.18,"y":-0.38,"c":2},{"x":0.1,"y":-0.42,"c":2},{"x":-0.05,"y":-0.55,"c":2},{"x":-0.05,"y":-0.72,"c":2},{"x":-0.08,"y":-0.9,"c":2},{"x":-0.45,"y":-0.95,"c":2},{"x":-0.6,"y":-1.0,"c":2},{"x":-0.72,"y":-0.95,"c":2},{"x":-0.35,"y":-1.2,"c":2},{"x":-0.12,"y":-1.15,"c":2},{"x":0.3,"y":-0.12,"c":2},{"x":0.42,"y":-0.05,"c":2},{"x":0.45,"y":-0.3,"c":2},{"x":0.58,"y":-0.45,"c":2},{"x":0.45,"y":-0.6,"c":2},{"x":0.7,"y":-0.62,"c":2},{"x":0.85,"y":-0.48,"c":2},{"x":0.95,"y":-0.35,"c":2},{"x":1.15,"y":-0.28,"c":2},{"x":1.28,"y":-0.32,"c":2},{"x":0.82,"y":-0.85,"c":2},{"x":0.8,"y":-0.18,"c":2},{"x":0.72,"y":-0.02,"c":2},{"x":0.9,"y":0.02,"c":2},{"x":1.05,"y":-0.02,"c":2},{"x":1.22,"y":0.02,"c":2},{"x":1.35,"y":0.15,"c":2},{"x":0.85,"y":0.28,"c":2},{"x":0.55,"y":0.12,"c":2},{"x":0.4,"y":0.3,"c":2},{"x":0.25,"y":0.02,"c":2},{"x":0.1,"y":0.42,"c":2},{"x":0.25,"y":0.45,"c":2},{"x":-0.3,"y":0.5,"c":2},{"x":-0.4,"y":0.65,"c":2},{"x":0.08,"y":0.72,"c":2},{"x":0.12,"y":0.58,"c":2},{"x":0.55,"y":0.6,"c":2},{"x":0.68,"y":0.55,"c":2},{"x":0.75,"y":0.75,"c":2},{"x":1.05,"y":0.88,"c":2},{"x":0.6,"y":1.25,"c":2},{"x":0.72,"y":1.18,"c":2},{"x":1.0,"y":1.32,"c":2},{"x":1.08,"y":1.45,"c":2},{"x":0.25,"y":1.2,"c":2},{"x":0.18,"y":1.05,"c":2},{"x":-0.1,"y":1.1,"c":2},{"x":-0.45,"y":0.88,"c":2},{"x":-0.8,"y":0.72,"c":2},{"x":-0.85,"y":1.05,"c":2},{"x":-1.2,"y":-1.2,"c":2},{"x":-0.6,"y":-1.45,"c":2},{"x":0.05,"y":-1.45,"c":2},{"x":0.45,"y":-1.3,"c":2},{"x":0.65,"y":-0.95,"c":2},{"x":1.05,"y":-1.1,"c":2},{"x":1.3,"y":-0.75,"c":2},{"x":1.55,"y":0.85,"c":2},{"x":1.35,"y":0.95,"c":2},{"x":-1.5,"y":-0.48,"c":2},{"x":-0.25,"y":-0.05,"c":2},{"x":-0.1,"y":0.02,"c":2},{"x":0.15,"y":0.08,"c":2},{"x":0.3,"y":0.18,"c":2},{"x":0.08,"y":-0.1,"c":2},{"x":-0.5,"y":-0.2,"c":2},{"x":-0.65,"y":-0.4,"c":2},{"x":0.3,"y":-0.4,"c":2},{"x":0.62,"y":-0.3,"c":2},{"x":0.95,"y":-0.55,"c":2},{"x":1.1,"y":-0.55,"c":2},{"x":-0.9,"y":-0.25,"c":2},{"x":-0.78,"y":-0.72,"c":2},{"x":0.22,"y":-0.6,"c":2},{"x":0.58,"y":-0.8,"c":2},{"x":0.7,"y":0.15,"c":2},
{"x":-1.0,"y":0.72,"c":0},{"x":-0.7,"y":0.42,"c":0},{"x":-0.25,"y":0.75,"c":0},{"x":0.3,"y":0.82,"c":0},{"x":0.65,"y":0.62,"c":0},{"x":1.08,"y":0.55,"c":0},{"x":1.2,"y":-0.12,"c":0},{"x":0.5,"y":-1.02,"c":0},{"x":-0.28,"y":-0.72,"c":0},{"x":-0.95,"y":-0.9,"c":0},{"x":-1.3,"y":-0.6,"c":0},{"x":0.1,"y":1.15,"c":0},{"x":-0.62,"y":1.28,"c":0},{"x":1.05,"y":0.95,"c":0},{"x":0.78,"y":-1.05,"c":0},{"x":-0.32,"y":-0.42,"c":1},{"x":0.22,"y":-0.18,"c":1},{"x":0.52,"y":0.42,"c":1},{"x":-0.18,"y":0.42,"c":1},{"x":-0.62,"y":-0.62,"c":1},{"x":1.1,"y":-0.8,"c":1},{"x":1.15,"y":0.12,"c":1},{"x":0.78,"y":0.95,"c":1},{"x":-0.9,"y":0.9,"c":1},{"x":-1.05,"y":-0.7,"c":1},{"x":0.35,"y":1.15,"c":1},{"x":-0.1,"y":-1.05,"c":1},{"x":0.82,"y":-1.0,"c":1},{"x":-0.78,"y":0.3,"c":1},{"x":0.42,"y":-1.1,"c":1}],
"p1":[{"a":0,"b":500,"c":0,"d":500,"v":0.44},{"a":0,"b":500,"c":20,"d":26,"v":0.4},{"a":0,"b":500,"c":60,"d":66,"v":0.38},{"a":0,"b":500,"c":100,"d":106,"v":0.48},{"a":0,"b":500,"c":170,"d":176,"v":0.4},{"a":0,"b":500,"c":250,"d":256,"v":0.37},{"a":0,"b":500,"c":300,"d":306,"v":0.47},{"a":0,"b":500,"c":395,"d":401,"v":0.37},{"a":0,"b":500,"c":445,"d":455,"v":0.36},{"a":90,"b":96,"c":0,"d":500,"v":0.4},{"a":180,"b":186,"c":0,"d":500,"v":0.38},{"a":260,"b":266,"c":0,"d":500,"v":0.36},{"a":350,"b":356,"c":0,"d":500,"v":0.48},{"a":450,"b":458,"c":0,"d":500,"v":0.36},{"a":470,"b":476,"c":0,"d":500,"v":0.38},
{"a":500,"b":800,"c":0,"d":500,"v":0.15},{"a":500,"b":800,"c":18,"d":24,"v":0.22},{"a":500,"b":800,"c":50,"d":56,"v":0.25},{"a":500,"b":800,"c":70,"d":80,"v":0.24},{"a":500,"b":800,"c":100,"d":106,"v":0.2},{"a":500,"b":800,"c":130,"d":170,"v":0.1},{"a":500,"b":800,"c":175,"d":185,"v":0.3},{"a":500,"b":800,"c":200,"d":210,"v":0.23},{"a":500,"b":800,"c":255,"d":265,"v":0.34},{"a":500,"b":800,"c":290,"d":296,"v":0.22},{"a":500,"b":800,"c":330,"d":340,"v":0.2},{"a":500,"b":800,"c":360,"d":370,"v":0.24},{"a":500,"b":800,"c":390,"d":430,"v":0.19},{"a":500,"b":800,"c":445,"d":455,"v":0.32},{"a":500,"b":800,"c":480,"d":490,"v":0.22},
{"a":800,"b":1000,"c":0,"d":500,"v":0.44},{"a":800,"b":1000,"c":60,"d":66,"v":0.38},{"a":800,"b":1000,"c":175,"d":181,"v":0.38},{"a":800,"b":1000,"c":255,"d":261,"v":0.36},{"a":800,"b":1000,"c":445,"d":455,"v":0.36},{"a":880,"b":886,"c":0,"d":500,"v":0.38},{"a":930,"b":936,"c":0,"d":500,"v":0.37},
{"a":0,"b":500,"c":500,"d":800,"v":0.13},{"a":0,"b":500,"c":720,"d":760,"v":0.1},{"a":20,"b":26,"c":500,"d":800,"v":0.22},{"a":50,"b":56,"c":500,"d":800,"v":0.24},{"a":70,"b":76,"c":500,"d":800,"v":0.2},{"a":110,"b":116,"c":500,"d":800,"v":0.2},{"a":180,"b":190,"c":500,"d":800,"v":0.3},{"a":260,"b":268,"c":500,"d":800,"v":0.33},{"a":320,"b":326,"c":500,"d":800,"v":0.22},{"a":350,"b":370,"c":500,"d":800,"v":0.18},{"a":440,"b":448,"c":500,"d":800,"v":0.28},{"a":465,"b":472,"c":500,"d":800,"v":0.24},
{"a":500,"b":800,"c":500,"d":800,"v":0.62},{"a":500,"b":800,"c":520,"d":526,"v":0.58},{"a":500,"b":800,"c":560,"d":566,"v":0.66},{"a":500,"b":800,"c":620,"d":626,"v":0.6},{"a":500,"b":800,"c":680,"d":690,"v":0.56},{"a":500,"b":800,"c":720,"d":726,"v":0.66},{"a":500,"b":800,"c":760,"d":770,"v":0.68},{"a":500,"b":800,"c":790,"d":800,"v":0.66},{"a":520,"b":526,"c":500,"d":800,"v":0.58},{"a":580,"b":586,"c":500,"d":800,"v":0.65},{"a":650,"b":656,"c":500,"d":800,"v":0.58},{"a":700,"b":706,"c":500,"d":800,"v":0.68},{"a":760,"b":766,"c":500,"d":800,"v":0.66},
{"a":800,"b":1000,"c":500,"d":800,"v":0.15},{"a":820,"b":826,"c":500,"d":800,"v":0.22},{"a":870,"b":876,"c":500,"d":800,"v":0.24},{"a":925,"b":931,"c":500,"d":800,"v":0.25},{"a":950,"b":956,"c":500,"d":800,"v":0.2},
{"a":0,"b":500,"c":800,"d":1000,"v":0.42},{"a":0,"b":500,"c":835,"d":841,"v":0.38},{"a":0,"b":500,"c":930,"d":936,"v":0.33},{"a":0,"b":500,"c":960,"d":966,"v":0.37},{"a":0,"b":500,"c":985,"d":991,"v":0.38},{"a":90,"b":96,"c":800,"d":1000,"v":0.38},{"a":180,"b":186,"c":800,"d":1000,"v":0.36},{"a":260,"b":266,"c":800,"d":1000,"v":0.35},{"a":350,"b":356,"c":800,"d":1000,"v":0.47},{"a":450,"b":458,"c":800,"d":1000,"v":0.36},
{"a":500,"b":800,"c":800,"d":1000,"v":0.16},{"a":500,"b":800,"c":820,"d":826,"v":0.22},{"a":500,"b":800,"c":860,"d":866,"v":0.24},{"a":500,"b":800,"c":905,"d":915,"v":0.2},{"a":500,"b":800,"c":930,"d":938,"v":0.32},{"a":500,"b":800,"c":950,"d":960,"v":0.12},{"a":500,"b":800,"c":975,"d":985,"v":0.24},
{"a":800,"b":1000,"c":800,"d":1000,"v":0.43},{"a":800,"b":1000,"c":930,"d":936,"v":0.36},{"a":880,"b":886,"c":800,"d":1000,"v":0.38},{"a":930,"b":936,"c":800,"d":1000,"v":0.37},{"a":960,"b":966,"c":800,"d":1000,"v":0.47}],
"p2":[{"a":0,"b":500,"c":0,"d":500,"v":0.47},{"a":0,"b":500,"c":10,"d":16,"v":0.38},{"a":0,"b":500,"c":40,"d":46,"v":0.55},{"a":0,"b":500,"c":60,"d":66,"v":0.55},{"a":0,"b":500,"c":80,"d":90,"v":0.4},{"a":0,"b":500,"c":130,"d":136,"v":0.35},{"a":0,"b":500,"c":160,"d":170,"v":0.33},{"a":0,"b":500,"c":210,"d":216,"v":0.52},{"a":0,"b":500,"c":240,"d":246,"v":0.52},{"a":0,"b":500,"c":305,"d":311,"v":0.3},{"a":0,"b":500,"c":340,"d":346,"v":0.53},{"a":0,"b":500,"c":400,"d":410,"v":0.56},{"a":0,"b":500,"c":450,"d":456,"v":0.38},{"a":40,"b":46,"c":0,"d":500,"v":0.36},{"a":100,"b":110,"c":0,"d":500,"v":0.52},{"a":160,"b":170,"c":0,"d":500,"v":0.35},{"a":230,"b":236,"c":0,"d":500,"v":0.54},{"a":250,"b":256,"c":0,"d":500,"v":0.42},{"a":310,"b":316,"c":0,"d":500,"v":0.35},{"a":350,"b":356,"c":0,"d":500,"v":0.55},{"a":440,"b":446,"c":0,"d":500,"v":0.32},
{"a":500,"b":800,"c":0,"d":500,"v":0.27},{"a":500,"b":800,"c":20,"d":26,"v":0.35},{"a":500,"b":800,"c":50,"d":56,"v":0.2},{"a":500,"b":800,"c":75,"d":85,"v":0.38},{"a":500,"b":800,"c":120,"d":130,"v":0.12},{"a":500,"b":800,"c":160,"d":170,"v":0.14},{"a":500,"b":800,"c":200,"d":210,"v":0.2},{"a":500,"b":800,"c":240,"d":250,"v":0.13},{"a":500,"b":800,"c":270,"d":276,"v":0.36},{"a":500,"b":800,"c":305,"d":315,"v":0.14},{"a":500,"b":800,"c":340,"d":346,"v":0.35},{"a":500,"b":800,"c":395,"d":405,"v":0.13},{"a":500,"b":800,"c":440,"d":446,"v":0.2},{"a":500,"b":800,"c":470,"d":480,"v":0.33},{"a":530,"b":536,"c":0,"d":500,"v":0.38},{"a":590,"b":596,"c":0,"d":500,"v":0.36},{"a":650,"b":656,"c":0,"d":500,"v":0.2},{"a":680,"b":686,"c":0,"d":500,"v":0.36},{"a":720,"b":726,"c":0,"d":500,"v":0.4},{"a":760,"b":766,"c":0,"d":500,"v":0.38},
{"a":800,"b":1000,"c":0,"d":500,"v":0.14},{"a":800,"b":1000,"c":10,"d":20,"v":0.2},{"a":800,"b":1000,"c":25,"d":30,"v":0.1},{"a":800,"b":1000,"c":60,"d":66,"v":0.1},{"a":800,"b":1000,"c":80,"d":90,"v":0.35},{"a":800,"b":1000,"c":130,"d":136,"v":0.3},{"a":800,"b":1000,"c":160,"d":166,"v":0.1},{"a":800,"b":1000,"c":210,"d":260,"v":0.08},{"a":800,"b":1000,"c":270,"d":300,"v":0.17},{"a":800,"b":1000,"c":320,"d":326,"v":0.2},{"a":800,"b":1000,"c":340,"d":360,"v":0.1},{"a":800,"b":1000,"c":380,"d":420,"v":0.07},{"a":800,"b":1000,"c":450,"d":460,"v":0.2},{"a":800,"b":1000,"c":480,"d":500,"v":0.1},{"a":900,"b":906,"c":0,"d":500,"v":0.2},{"a":950,"b":956,"c":0,"d":500,"v":0.22},
{"a":0,"b":500,"c":500,"d":800,"v":0.27},{"a":0,"b":500,"c":520,"d":526,"v":0.1},{"a":0,"b":500,"c":560,"d":566,"v":0.08},{"a":0,"b":500,"c":600,"d":606,"v":0.35},{"a":0,"b":500,"c":650,"d":656,"v":0.2},{"a":0,"b":500,"c":700,"d":706,"v":0.14},{"a":0,"b":500,"c":740,"d":746,"v":0.36},{"a":0,"b":500,"c":780,"d":790,"v":0.4},{"a":30,"b":36,"c":500,"d":800,"v":0.4},{"a":80,"b":86,"c":500,"d":800,"v":0.38},{"a":150,"b":156,"c":500,"d":800,"v":0.36},{"a":210,"b":216,"c":500,"d":800,"v":0.15},{"a":300,"b":306,"c":500,"d":800,"v":0.42},{"a":360,"b":366,"c":500,"d":800,"v":0.17},{"a":420,"b":426,"c":500,"d":800,"v":0.4},{"a":470,"b":476,"c":500,"d":800,"v":0.38},
{"a":500,"b":800,"c":500,"d":800,"v":0.44},{"a":500,"b":800,"c":520,"d":526,"v":0.5},{"a":500,"b":800,"c":560,"d":566,"v":0.38},{"a":500,"b":800,"c":610,"d":620,"v":0.5},{"a":500,"b":800,"c":700,"d":706,"v":0.35},{"a":500,"b":800,"c":760,"d":770,"v":0.36},{"a":500,"b":800,"c":790,"d":796,"v":0.4},{"a":530,"b":536,"c":500,"d":800,"v":0.38},{"a":580,"b":586,"c":500,"d":800,"v":0.36},{"a":660,"b":666,"c":500,"d":800,"v":0.5},{"a":720,"b":726,"c":500,"d":800,"v":0.36},{"a":770,"b":776,"c":500,"d":800,"v":0.3},
{"a":800,"b":1000,"c":500,"d":800,"v":0.27},{"a":800,"b":1000,"c":510,"d":516,"v":0.12},{"a":800,"b":1000,"c":540,"d":546,"v":0.38},{"a":800,"b":1000,"c":565,"d":570,"v":0.15},{"a":800,"b":1000,"c":600,"d":606,"v":0.38},{"a":800,"b":1000,"c":640,"d":646,"v":0.14},{"a":800,"b":1000,"c":700,"d":706,"v":0.1},{"a":800,"b":1000,"c":725,"d":731,"v":0.38},{"a":800,"b":1000,"c":760,"d":766,"v":0.4},
{"a":0,"b":500,"c":800,"d":1000,"v":0.13},{"a":0,"b":500,"c":840,"d":846,"v":0.1},{"a":0,"b":500,"c":900,"d":910,"v":0.2},{"a":0,"b":500,"c":950,"d":956,"v":0.2},{"a":0,"b":500,"c":985,"d":991,"v":0.1},{"a":50,"b":60,"c":800,"d":1000,"v":0.22},{"a":80,"b":86,"c":800,"d":1000,"v":0.35},{"a":160,"b":166,"c":800,"d":1000,"v":0.07},{"a":190,"b":196,"c":800,"d":1000,"v":0.08},{"a":250,"b":256,"c":800,"d":1000,"v":0.22},{"a":300,"b":310,"c":800,"d":1000,"v":0.18},{"a":340,"b":360,"c":800,"d":1000,"v":0.07},
{"a":500,"b":800,"c":800,"d":1000,"v":0.33},{"a":510,"b":516,"c":800,"d":1000,"v":0.42},{"a":540,"b":546,"c":800,"d":1000,"v":0.22},{"a":580,"b":586,"c":800,"d":1000,"v":0.42},{"a":620,"b":626,"c":800,"d":1000,"v":0.25},{"a":660,"b":666,"c":800,"d":1000,"v":0.42},{"a":700,"b":710,"c":800,"d":1000,"v":0.18},{"a":740,"b":746,"c":800,"d":1000,"v":0.45},{"a":770,"b":776,"c":800,"d":1000,"v":0.3},
{"a":800,"b":1000,"c":800,"d":1000,"v":0.6},{"a":800,"b":1000,"c":830,"d":840,"v":0.55},{"a":800,"b":1000,"c":860,"d":866,"v":0.64},{"a":800,"b":1000,"c":920,"d":935,"v":0.64},{"a":800,"b":1000,"c":970,"d":975,"v":0.57},{"a":800,"b":1000,"c":990,"d":1000,"v":0.66},{"a":830,"b":836,"c":800,"d":1000,"v":0.55},{"a":900,"b":906,"c":800,"d":1000,"v":0.54},{"a":950,"b":956,"c":800,"d":1000,"v":0.65},{"a":980,"b":986,"c":800,"d":1000,"v":0.58}],
"p3":[{"a":0,"b":500,"c":0,"d":500,"v":0.54},{"a":0,"b":500,"c":60,"d":66,"v":0.5},{"a":0,"b":500,"c":90,"d":95,"v":0.44},{"a":0,"b":500,"c":130,"d":136,"v":0.58},{"a":0,"b":500,"c":200,"d":206,"v":0.48},{"a":0,"b":500,"c":240,"d":246,"v":0.47},{"a":0,"b":500,"c":340,"d":346,"v":0.6},{"a":0,"b":500,"c":400,"d":406,"v":0.6},{"a":0,"b":500,"c":450,"d":456,"v":0.5},{"a":40,"b":46,"c":0,"d":500,"v":0.5},{"a":100,"b":106,"c":0,"d":500,"v":0.5},{"a":160,"b":166,"c":0,"d":500,"v":0.59},{"a":260,"b":266,"c":0,"d":500,"v":0.46},{"a":350,"b":356,"c":0,"d":500,"v":0.6},{"a":440,"b":446,"c":0,"d":500,"v":0.47},
{"a":500,"b":800,"c":0,"d":500,"v":0.26},{"a":500,"b":800,"c":20,"d":26,"v":0.3},{"a":500,"b":800,"c":40,"d":46,"v":0.36},{"a":500,"b":800,"c":70,"d":80,"v":0.35},{"a":500,"b":800,"c":125,"d":135,"v":0.16},{"a":500,"b":800,"c":160,"d":166,"v":0.18},{"a":500,"b":800,"c":200,"d":206,"v":0.36},{"a":500,"b":800,"c":240,"d":260,"v":0.2},{"a":500,"b":800,"c":280,"d":286,"v":0.34},{"a":500,"b":800,"c":305,"d":311,"v":0.18},{"a":500,"b":800,"c":330,"d":336,"v":0.36},{"a":500,"b":800,"c":380,"d":400,"v":0.23},{"a":500,"b":800,"c":440,"d":450,"v":0.36},{"a":500,"b":800,"c":470,"d":476,"v":0.33},{"a":530,"b":536,"c":0,"d":500,"v":0.35},{"a":590,"b":596,"c":0,"d":500,"v":0.34},{"a":680,"b":686,"c":0,"d":500,"v":0.35},{"a":720,"b":726,"c":0,"d":500,"v":0.38},{"a":770,"b":776,"c":0,"d":500,"v":0.33},
{"a":800,"b":1000,"c":0,"d":500,"v":0.38},{"a":800,"b":1000,"c":90,"d":95,"v":0.48},{"a":800,"b":1000,"c":130,"d":136,"v":0.33},{"a":800,"b":1000,"c":150,"d":156,"v":0.44},{"a":800,"b":1000,"c":300,"d":306,"v":0.33},{"a":880,"b":886,"c":0,"d":500,"v":0.33},{"a":930,"b":936,"c":0,"d":500,"v":0.42},
{"a":0,"b":500,"c":500,"d":800,"v":0.26},{"a":0,"b":500,"c":560,"d":566,"v":0.17},{"a":0,"b":500,"c":600,"d":606,"v":0.32},{"a":0,"b":500,"c":700,"d":706,"v":0.18},{"a":0,"b":500,"c":780,"d":786,"v":0.35},{"a":30,"b":36,"c":500,"d":800,"v":0.38},{"a":60,"b":66,"c":500,"d":800,"v":0.2},{"a":120,"b":130,"c":500,"d":800,"v":0.16},{"a":160,"b":166,"c":500,"d":800,"v":0.34},{"a":210,"b":216,"c":500,"d":800,"v":0.3},{"a":260,"b":266,"c":500,"d":800,"v":0.42},{"a":300,"b":306,"c":500,"d":800,"v":0.38},{"a":340,"b":346,"c":500,"d":800,"v":0.2},{"a":440,"b":446,"c":500,"d":800,"v":0.35},
{"a":500,"b":800,"c":500,"d":800,"v":0.62},{"a":500,"b":800,"c":520,"d":526,"v":0.57},{"a":500,"b":800,"c":610,"d":616,"v":0.66},{"a":500,"b":800,"c":700,"d":720,"v":0.66},{"a":500,"b":800,"c":760,"d":766,"v":0.55},{"a":500,"b":800,"c":775,"d":781,"v":0.6},{"a":530,"b":536,"c":500,"d":800,"v":0.57},{"a":580,"b":586,"c":500,"d":800,"v":0.66},{"a":660,"b":666,"c":500,"d":800,"v":0.57},{"a":720,"b":730,"c":500,"d":800,"v":0.68},{"a":770,"b":776,"c":500,"d":800,"v":0.6},
{"a":800,"b":1000,"c":500,"d":800,"v":0.28},{"a":800,"b":1000,"c":515,"d":521,"v":0.18},{"a":800,"b":1000,"c":540,"d":546,"v":0.34},{"a":800,"b":1000,"c":575,"d":580,"v":0.17},{"a":800,"b":1000,"c":610,"d":616,"v":0.34},{"a":800,"b":1000,"c":640,"d":646,"v":0.22},{"a":800,"b":1000,"c":705,"d":711,"v":0.17},{"a":800,"b":1000,"c":725,"d":731,"v":0.33},{"a":800,"b":1000,"c":760,"d":766,"v":0.36},
{"a":0,"b":500,"c":800,"d":1000,"v":0.39},{"a":0,"b":500,"c":840,"d":846,"v":0.33},{"a":0,"b":500,"c":900,"d":906,"v":0.43},{"a":0,"b":500,"c":930,"d":936,"v":0.31},{"a":0,"b":500,"c":980,"d":986,"v":0.33},{"a":40,"b":46,"c":800,"d":1000,"v":0.33},{"a":90,"b":96,"c":800,"d":1000,"v":0.44},{"a":150,"b":156,"c":800,"d":1000,"v":0.45},{"a":190,"b":196,"c":800,"d":1000,"v":0.43},{"a":280,"b":286,"c":800,"d":1000,"v":0.43},{"a":340,"b":346,"c":800,"d":1000,"v":0.32},{"a":460,"b":466,"c":800,"d":1000,"v":0.33},
{"a":500,"b":800,"c":800,"d":1000,"v":0.27},{"a":500,"b":800,"c":960,"d":966,"v":0.19},{"a":510,"b":516,"c":800,"d":1000,"v":0.18},{"a":540,"b":546,"c":800,"d":1000,"v":0.35},{"a":600,"b":606,"c":800,"d":1000,"v":0.22},{"a":640,"b":646,"c":800,"d":1000,"v":0.34},{"a":700,"b":710,"c":800,"d":1000,"v":0.18},{"a":740,"b":746,"c":800,"d":1000,"v":0.32},{"a":770,"b":776,"c":800,"d":1000,"v":0.38},
{"a":800,"b":1000,"c":800,"d":1000,"v":0.58},{"a":800,"b":1000,"c":850,"d":856,"v":0.54},{"a":800,"b":1000,"c":900,"d":906,"v":0.6},{"a":800,"b":1000,"c":960,"d":966,"v":0.55},{"a":800,"b":1000,"c":990,"d":1000,"v":0.66},{"a":830,"b":836,"c":800,"d":1000,"v":0.55},{"a":900,"b":906,"c":800,"d":1000,"v":0.53},{"a":950,"b":956,"c":800,"d":1000,"v":0.6}]
},
"vconcat":[
{"columns":6,"bounds":"flush","spacing":{"row":13,"column":18},"concat":[
{"width":46,"height":1,"data":{"values":[{"k":0}]},"mark":"text","encoding":{"text":{"value":""}}},
{"width":297,"height":64,"view":{"stroke":"#aaaaaa","strokeWidth":1.5},"data":{"name":"topA"},"mark":{"type":"bar","color":"#1f77b4","stroke":"#1f77b4","strokeWidth":0.6},"encoding":{"x":{"field":"a","type":"quantitative","scale":{"domain":[-2.11,4.42],"nice":false,"zero":false},"axis":{"title":null,"values":[-2,0,2,4],"labels":false}},"x2":{"field":"b"},"y":{"field":"v","type":"quantitative","scale":{"domain":[0,0.6],"nice":false},"axis":{"title":null,"values":[0,0.5],"format":".1f"}},"y2":{"datum":0}}},
{"width":1,"height":1,"data":{"values":[{"k":0}]},"mark":"text","encoding":{"text":{"value":""}}},
{"width":195,"height":1,"data":{"values":[{"k":0}]},"mark":"text","encoding":{"text":{"value":""}}},
{"width":298,"height":64,"view":{"stroke":"#aaaaaa","strokeWidth":1.5},"data":{"name":"topB"},"mark":{"type":"bar","color":"#1f77b4","stroke":"#1f77b4","strokeWidth":0.6},"encoding":{"x":{"field":"a","type":"quantitative","scale":{"domain":[-3.24,3.76],"nice":false,"zero":false},"axis":{"title":null,"values":[-2,0,2],"labels":false}},"x2":{"field":"b"},"y":{"field":"v","type":"quantitative","scale":{"domain":[0,0.42],"nice":false},"axis":{"title":null,"values":[0,0.25],"format":".2f"}},"y2":{"datum":0}}},
{"width":1,"height":1,"data":{"values":[{"k":0}]},"mark":"text","encoding":{"text":{"value":""}}},
{"width":1,"height":1,"data":{"values":[{"k":0}]},"mark":"text","encoding":{"text":{"value":""}}},
{"width":297,"height":217,"view":{"stroke":"#aaaaaa","strokeWidth":1.5},"data":{"name":"scA"},"mark":{"type":"point","filled":true,"size":58,"opacity":1},"encoding":{"x":{"field":"x","type":"quantitative","scale":{"domain":[-2.11,4.42],"nice":false,"zero":false},"axis":{"title":null,"values":[-2,0,2,4]}},"y":{"field":"y","type":"quantitative","scale":{"domain":[-2.12,3.45],"nice":false,"zero":false},"axis":{"title":null,"values":[-2,-1,0,1,2,3]}},"color":{"field":"c","type":"nominal","scale":{"domain":[0,1,2],"range":["#440154","#21918c","#fde725"]},"legend":null}}},
{"width":87,"height":217,"view":{"stroke":"#aaaaaa","strokeWidth":1.5},"data":{"name":"sideA"},"mark":{"type":"bar","color":"#1f77b4","stroke":"#1f77b4","strokeWidth":0.6},"encoding":{"y":{"field":"a","type":"quantitative","scale":{"domain":[-2.12,3.45],"nice":false,"zero":false},"axis":{"title":null,"values":[-2,-1,0,1,2,3],"labels":false}},"y2":{"field":"b"},"x":{"field":"v","type":"quantitative","scale":{"domain":[0,0.48],"nice":false},"axis":{"title":null,"values":[0,0.25],"format":".2f"}},"x2":{"datum":0}}},
{"width":1,"height":1,"data":{"values":[{"k":0}]},"mark":"text","encoding":{"text":{"value":""}}},
{"width":298,"height":217,"view":{"stroke":"#aaaaaa","strokeWidth":1.5},"data":{"name":"scB"},"mark":{"type":"point","filled":true,"size":58,"opacity":1},"encoding":{"x":{"field":"x","type":"quantitative","scale":{"domain":[-3.24,3.76],"nice":false,"zero":false},"axis":{"title":null,"values":[-2,0,2]}},"y":{"field":"y","type":"quantitative","scale":{"domain":[-3.24,3.74],"nice":false,"zero":false},"axis":{"title":null,"values":[-2,0,2]}},"color":{"field":"c","type":"nominal","scale":{"domain":[0,1,2],"range":["#440154","#21918c","#fde725"]},"legend":null}}},
{"width":87,"height":217,"view":{"stroke":"#aaaaaa","strokeWidth":1.5},"data":{"name":"sideB"},"mark":{"type":"bar","color":"#1f77b4","stroke":"#1f77b4","strokeWidth":0.6},"encoding":{"y":{"field":"a","type":"quantitative","scale":{"domain":[-3.24,3.74],"nice":false,"zero":false},"axis":{"title":null,"values":[-2,0,2],"labels":false}},"y2":{"field":"b"},"x":{"field":"v","type":"quantitative","scale":{"domain":[0,0.486],"nice":false},"axis":{"title":null,"values":[0,0.25],"format":".2f"}},"x2":{"datum":0}}}
],"resolve":{"scale":{"x":"independent","y":"independent"}}},
{"columns":3,"bounds":"flush","spacing":{"row":0,"column":57},"concat":[
{"width":575,"height":162.5,"data":{"values":[{"y":53,"t":"(a) The first two views (each view is in ℝ),"},{"y":85,"t":"each corresponds to different clustering struc-"},{"y":117,"t":"ture."}]},"layer":[{"mark":{"type":"text","font":"DejaVu Serif","fontSize":22.5,"align":"left","baseline":"middle","color":"#111111"},"encoding":{"x":{"datum":0,"type":"quantitative","scale":{"domain":[0,1]},"axis":null},"y":{"field":"y","type":"quantitative","scale":{"domain":[0,162.5],"reverse":true,"nice":false},"axis":null},"text":{"field":"t"}}},{"data":{"values":[{"y":34.5,"z":134.5}]},"mark":{"type":"rule","color":"#222222","strokeWidth":1},"encoding":{"x":{"datum":1,"type":"quantitative","scale":{"domain":[0,1]},"axis":null},"y":{"field":"y","type":"quantitative","scale":{"domain":[0,162.5],"reverse":true,"nice":false},"axis":null},"y2":{"field":"z"}}}]},
{"width":525,"height":162.5,"data":{"values":[{"y":53,"t":"(b) Two noisy views, neither contains any"},{"y":85,"t":"clustering structure."}]},"mark":{"type":"text","font":"DejaVu Serif","fontSize":22.5,"align":"left","baseline":"middle","color":"#111111"},"encoding":{"x":{"datum":0,"type":"quantitative","scale":{"domain":[0,1]},"axis":null},"y":{"field":"y","type":"quantitative","scale":{"domain":[0,162.5],"reverse":true,"nice":false},"axis":null},"text":{"field":"t"}}}
]},
{"columns":6,"bounds":"flush","spacing":0,"concat":[
{"width":65,"height":1,"data":{"values":[{"k":0}]},"mark":"text","encoding":{"text":{"value":""}}},
{"width":209,"height":210,"view":{"stroke":"#cccccc","strokeWidth":1.5},"encoding":{"x":{"type":"quantitative","scale":{"domain":[0,1000],"nice":false},"axis":{"title":null,"values":[0,200,400,600,800],"labelFontSize":12,"labelColor":"#555555","tickSize":3}},"y":{"type":"quantitative","scale":{"domain":[0,1000],"reverse":true,"nice":false},"axis":{"title":null,"values":[0,200,400,600,800],"labelFontSize":12,"labelColor":"#555555","tickSize":3}}},"layer":[{"data":{"name":"p1"},"mark":{"type":"rect"},"encoding":{"x":{"field":"a"},"x2":{"field":"b"},"y":{"field":"c"},"y2":{"field":"d"},"color":{"field":"v","type":"quantitative","scale":{"domain":[0,0.11,0.125,0.35,0.375,0.5,0.64,0.66,0.89,0.91,1],"range":["#00007f","#0000ff","#0000ff","#00e5ff","#14ffe2","#7cff79","#eeff09","#ffe600","#ff1200","#f80000","#7f0000"]},"legend":{"title":null,"values":[0,0.2,0.4,0.6,0.8,1],"format":".1f","encoding":{"labels":{"update":{"baseline":{"value":"middle"},"y":{"signal":"(1-datum.perc)*210"}}}}}}}},{"data":{"name":"grain"},"mark":{"type":"rect","color":"#906a90","opacity":0.18},"encoding":{"x":{"field":"a"},"x2":{"field":"b"},"y":null}},{"data":{"name":"grain"},"mark":{"type":"rect","color":"#906a90","opacity":0.18},"encoding":{"y":{"field":"a"},"y2":{"field":"b"},"x":null}}]},
{"width":180,"height":1,"data":{"values":[{"k":0}]},"mark":"text","encoding":{"text":{"value":""}}},
{"width":209,"height":210,"view":{"stroke":"#cccccc","strokeWidth":1.5},"encoding":{"x":{"type":"quantitative","scale":{"domain":[0,1000],"nice":false},"axis":{"title":null,"values":[0,200,400,600,800],"labelFontSize":12,"labelColor":"#555555","tickSize":3}},"y":{"type":"quantitative","scale":{"domain":[0,1000],"reverse":true,"nice":false},"axis":{"title":null,"values":[0,200,400,600,800],"labelFontSize":12,"labelColor":"#555555","tickSize":3}}},"layer":[{"data":{"name":"p2"},"mark":{"type":"rect"},"encoding":{"x":{"field":"a"},"x2":{"field":"b"},"y":{"field":"c"},"y2":{"field":"d"},"color":{"field":"v","type":"quantitative","scale":{"domain":[0,0.11,0.125,0.35,0.375,0.5,0.64,0.66,0.89,0.91,1],"range":["#00007f","#0000ff","#0000ff","#00e5ff","#14ffe2","#7cff79","#eeff09","#ffe600","#ff1200","#f80000","#7f0000"]},"legend":{"title":null,"values":[0,0.2,0.4,0.6,0.8,1],"format":".1f","encoding":{"labels":{"update":{"baseline":{"value":"middle"},"y":{"signal":"(1-datum.perc)*210"}}}}}}}},{"data":{"name":"grain"},"mark":{"type":"rect","color":"#906a90","opacity":0.18},"encoding":{"x":{"field":"a"},"x2":{"field":"b"},"y":null}},{"data":{"name":"grain"},"mark":{"type":"rect","color":"#906a90","opacity":0.18},"encoding":{"y":{"field":"a"},"y2":{"field":"b"},"x":null}}]},
{"width":180,"height":1,"data":{"values":[{"k":0}]},"mark":"text","encoding":{"text":{"value":""}}},
{"width":209,"height":210,"view":{"stroke":"#cccccc","strokeWidth":1.5},"encoding":{"x":{"type":"quantitative","scale":{"domain":[0,1000],"nice":false},"axis":{"title":null,"values":[0,200,400,600,800],"labelFontSize":12,"labelColor":"#555555","tickSize":3}},"y":{"type":"quantitative","scale":{"domain":[0,1000],"reverse":true,"nice":false},"axis":{"title":null,"values":[0,200,400,600,800],"labelFontSize":12,"labelColor":"#555555","tickSize":3}}},"layer":[{"data":{"name":"p3"},"mark":{"type":"rect"},"encoding":{"x":{"field":"a"},"x2":{"field":"b"},"y":{"field":"c"},"y2":{"field":"d"},"color":{"field":"v","type":"quantitative","scale":{"domain":[0,0.11,0.125,0.35,0.375,0.5,0.64,0.66,0.89,0.91,1],"range":["#00007f","#0000ff","#0000ff","#00e5ff","#14ffe2","#7cff79","#eeff09","#ffe600","#ff1200","#f80000","#7f0000"]},"legend":{"title":null,"values":[0,0.2,0.4,0.6,0.8,1],"format":".1f","encoding":{"labels":{"update":{"baseline":{"value":"middle"},"y":{"signal":"(1-datum.perc)*210"}}}}}}}},{"data":{"name":"grain"},"mark":{"type":"rect","color":"#906a90","opacity":0.12},"encoding":{"x":{"field":"a"},"x2":{"field":"b"},"y":null}},{"data":{"name":"grain"},"mark":{"type":"rect","color":"#906a90","opacity":0.12},"encoding":{"y":{"field":"a"},"y2":{"field":"b"},"x":null}}]}
],"resolve":{"scale":{"color":"independent"}}},
{"columns":3,"bounds":"flush","spacing":{"row":0,"column":11},"concat":[
{"width":378,"height":126,"data":{"values":[{"y":47,"t":"(c) Estimated P⁽¹⁾ based on the"},{"y":79,"t":"first view."}]},"layer":[{"mark":{"type":"text","font":"DejaVu Serif","fontSize":22.5,"align":"left","baseline":"middle","color":"#111111"},"encoding":{"x":{"datum":0,"type":"quantitative","scale":{"domain":[0,1]},"axis":null},"y":{"field":"y","type":"quantitative","scale":{"domain":[0,126],"reverse":true,"nice":false},"axis":null},"text":{"field":"t"}}},{"data":{"values":[{"y":29,"z":126}]},"mark":{"type":"rule","color":"#222222","strokeWidth":1},"encoding":{"x":{"datum":1,"type":"quantitative","scale":{"domain":[0,1]},"axis":null},"y":{"field":"y","type":"quantitative","scale":{"domain":[0,126],"reverse":true,"nice":false},"axis":null},"y2":{"field":"z"}}}]},
{"width":378,"height":126,"data":{"values":[{"y":47,"t":"(d) Estimated P⁽²⁾ based on the"},{"y":79,"t":"second view."}]},"layer":[{"mark":{"type":"text","font":"DejaVu Serif","fontSize":22.5,"align":"left","baseline":"middle","color":"#111111"},"encoding":{"x":{"datum":0,"type":"quantitative","scale":{"domain":[0,1]},"axis":null},"y":{"field":"y","type":"quantitative","scale":{"domain":[0,126],"reverse":true,"nice":false},"axis":null},"text":{"field":"t"}}},{"data":{"values":[{"y":29,"z":126}]},"mark":{"type":"rule","color":"#222222","strokeWidth":1},"encoding":{"x":{"datum":1,"type":"quantitative","scale":{"domain":[0,1]},"axis":null},"y":{"field":"y","type":"quantitative","scale":{"domain":[0,126],"reverse":true,"nice":false},"axis":null},"y2":{"field":"z"}}}]},
{"width":378,"height":126,"data":{"values":[{"y":47,"t":"(e) Consensus formed by com-"},{"y":79,"t":"bining the first two views, while"},{"y":110,"t":"ignoring the other ones."}]},"mark":{"type":"text","font":"DejaVu Serif","fontSize":22.5,"align":"left","baseline":"middle","color":"#111111"},"encoding":{"x":{"datum":0,"type":"quantitative","scale":{"domain":[0,1]},"axis":null},"y":{"field":"y","type":"quantitative","scale":{"domain":[0,126],"reverse":true,"nice":false},"axis":null},"text":{"field":"t"}}}
]}
]}
